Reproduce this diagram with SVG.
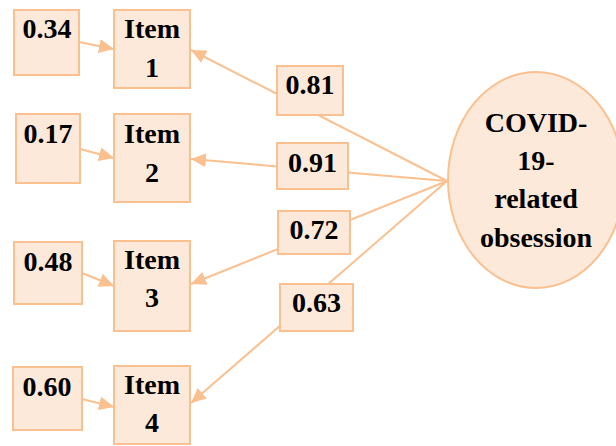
<svg xmlns="http://www.w3.org/2000/svg" width="616" height="446" viewBox="0 0 616 446">
  <style>
    .box { fill: #FDE9D9; stroke: #FAC090; stroke-width: 2; }
    .lbl { font-family: "Liberation Serif", "Times New Roman", serif; font-weight: bold; font-size: 28px; fill: #000; text-anchor: middle; }
    .con { stroke: #FAC090; stroke-width: 2; fill: none; }
  </style>
  <defs>
    <marker id="arr" markerUnits="userSpaceOnUse" markerWidth="16" markerHeight="14" refX="15" refY="7" orient="auto">
      <path d="M0,0 L15,7 L0,14 Z" fill="#FAC090"/>
    </marker>
  </defs>
  <rect width="616" height="446" fill="#fff"/>

  <g id="connectors">
    <line class="con" x1="79" y1="42" x2="114" y2="49" marker-end="url(#arr)"/>
    <line class="con" x1="80" y1="149" x2="114" y2="158" marker-end="url(#arr)"/>
    <line class="con" x1="82" y1="273" x2="114" y2="286" marker-end="url(#arr)"/>
    <line class="con" x1="82" y1="399" x2="114" y2="407" marker-end="url(#arr)"/>
    <line class="con" x1="447" y1="181" x2="191" y2="50" marker-end="url(#arr)"/>
    <line class="con" x1="447" y1="181" x2="191" y2="159" marker-end="url(#arr)"/>
    <line class="con" x1="447" y1="181" x2="191" y2="284" marker-end="url(#arr)"/>
    <line class="con" x1="447" y1="181" x2="191" y2="403" marker-end="url(#arr)"/>
  </g>

  <g id="e1"><rect class="box" x="14" y="10" width="65" height="65"/><text class="lbl" x="47" y="38">0.34</text></g>
  <g id="e2"><rect class="box" x="16" y="114" width="64" height="69"/><text class="lbl" x="48" y="143">0.17</text></g>
  <g id="e3"><rect class="box" x="14" y="242" width="68" height="62"/><text class="lbl" x="48" y="271">0.48</text></g>
  <g id="e4"><rect class="box" x="13" y="367" width="69" height="63"/><text class="lbl" x="47" y="396">0.60</text></g>

  <g id="item1"><rect class="box" x="114" y="10" width="76" height="78"/><text class="lbl" x="152" y="38">Item</text><text class="lbl" x="152" y="77">1</text></g>
  <g id="item2"><rect class="box" x="114" y="114" width="76" height="88"/><text class="lbl" x="152" y="143">Item</text><text class="lbl" x="152" y="182">2</text></g>
  <g id="item3"><rect class="box" x="114" y="241" width="76" height="90"/><text class="lbl" x="152" y="269">Item</text><text class="lbl" x="152" y="307">3</text></g>
  <g id="item4"><rect class="box" x="114" y="366" width="76" height="78"/><text class="lbl" x="152" y="394">Item</text><text class="lbl" x="152" y="432">4</text></g>

  <g id="l1"><rect class="box" x="277" y="66" width="66" height="49"/><text class="lbl" x="310" y="94">0.81</text></g>
  <g id="l2"><rect class="box" x="277" y="143" width="71" height="46"/><text class="lbl" x="312.5" y="172">0.91</text></g>
  <g id="l3"><rect class="box" x="278" y="211" width="72" height="43"/><text class="lbl" x="314" y="239">0.72</text></g>
  <g id="l4"><rect class="box" x="280" y="284" width="73" height="47"/><text class="lbl" x="316.5" y="312">0.63</text></g>

  <g id="factor">
    <ellipse class="box" cx="536" cy="180" rx="88" ry="108"/>
    <text class="lbl" x="536" y="132">COVID-</text>
    <text class="lbl" x="536" y="170">19-</text>
    <text class="lbl" x="536" y="208">related</text>
    <text class="lbl" x="536" y="247">obsession</text>
  </g>
</svg>
